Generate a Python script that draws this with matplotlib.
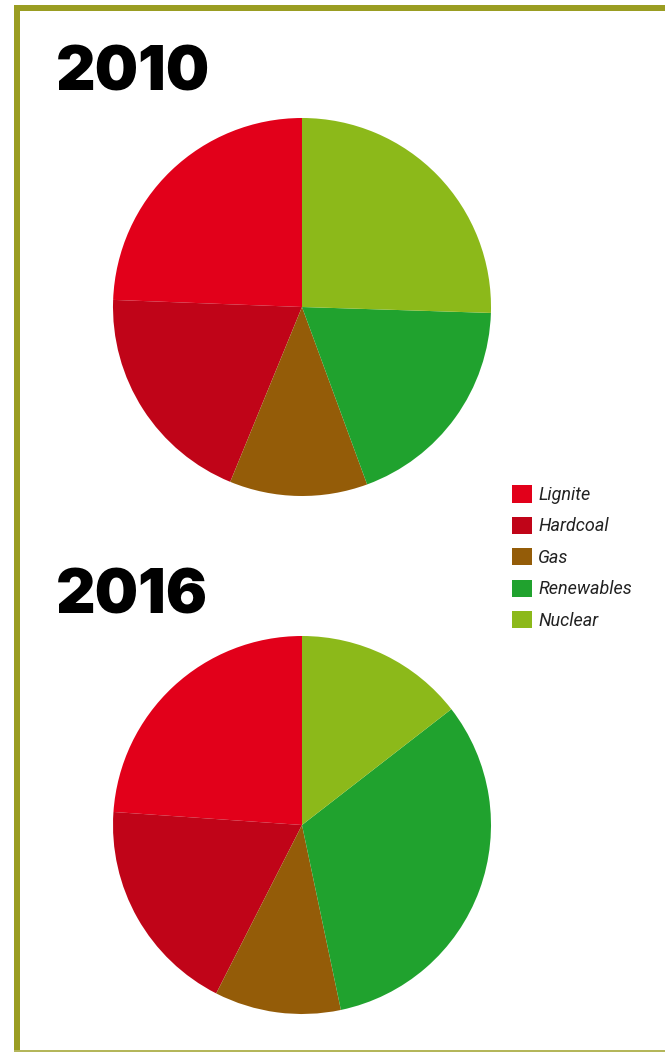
import matplotlib
matplotlib.use("Agg")
from matplotlib import pyplot as plt
from matplotlib.patches import Patch, Rectangle

# energy mix shares (%) per year
sources = ["Lignite", "Hardcoal", "Gas", "Renewables", "Nuclear"]
share_2010 = [24.4, 19.4, 11.8, 18.9, 25.5]
share_2016 = [23.9, 18.6, 10.8, 32.2, 14.5]
colors = ["#e2001a", "#c00418", "#945c08", "#20a22e", "#8cb91a"]

W, H = 665, 1052
fig = plt.figure(figsize=(W / 100, H / 100), dpi=100)
fig.patch.set_facecolor("white")

border = "#9a9d22"
# frame: heavy top and left edge, thin bottom edge
fig.add_artist(Rectangle((14 / W, 1 - 11 / H), 1, 6 / H, transform=fig.transFigure,
                         color=border, lw=0))
fig.add_artist(Rectangle((14 / W, 0), 6 / W, 1 - 5 / H, transform=fig.transFigure,
                         color=border, lw=0))
fig.add_artist(Rectangle((14 / W, 0), 1, 2 / H, transform=fig.transFigure,
                         color="#b4b65a", lw=0))


def pie_axes(cx, cy, r):
    return fig.add_axes([(cx - r) / W, 1 - (cy + r) / H, 2 * r / W, 2 * r / H])


for year, vals, cy, ty in [("2010", share_2010, 307, 68), ("2016", share_2016, 825, 591)]:
    ax = pie_axes(302, cy, 189)
    ax.pie(vals, colors=colors, startangle=90, counterclock=True,
           wedgeprops=dict(linewidth=0, antialiased=True))
    ax.set_xlim(-1, 1)
    ax.set_ylim(-1, 1)
    ax.set_aspect("equal")
    ax.axis("off")
    fig.text(56 / W, 1 - ty / H, year, fontsize=44, fontweight="black",
             family=["Inter", "Roboto", "DejaVu Sans"], va="center_baseline",
             ha="left", color="black")

handles = [Patch(facecolor=c, edgecolor="none") for c in colors]
fig.legend(handles, sources, loc="upper left", bbox_to_anchor=(505 / W, 1 - 478 / H),
           frameon=False, handlelength=1.1, handleheight=1.1,
           handletextpad=0.35, labelspacing=0.7, borderaxespad=0,
           prop=dict(style="italic", size=13, family=["Roboto", "DejaVu Sans"]),
           labelcolor="#222222")

fig.savefig("out.png", dpi=100, facecolor="white")
